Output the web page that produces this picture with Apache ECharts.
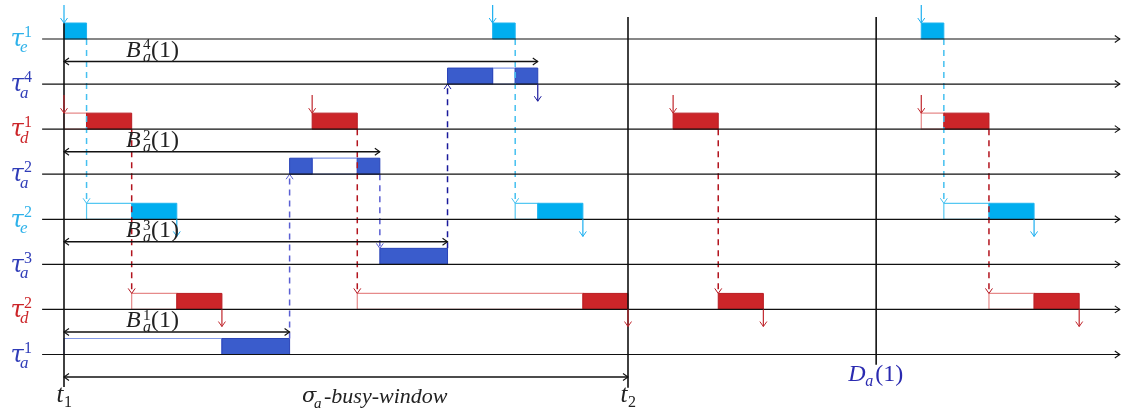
<!DOCTYPE html>
<html>
<head>
<meta charset="utf-8">
<script src="https://cdn.jsdelivr.net/npm/echarts@6/dist/echarts.min.js"></script>
<style>html,body{margin:0;background:#fff}#chart{width:1123px;height:414px}</style>
</head>
<body>
<div id="chart"></div>
<script>
// rows from top to bottom: task kind (e/a/d) and its index
var rowKind = ['e', 'a', 'd', 'a', 'e', 'a', 'd', 'a'];
var rowIndex = ['1', '4', '1', '2', '2', '3', '2', '1'];

// [row, start, end] in time units
var runSlots = [
    [0, 0, 1], [0, 19, 20], [0, 38, 39],
    [1, 17, 19], [1, 20, 21],
    [2, 1, 3], [2, 11, 13], [2, 27, 29], [2, 39, 41],
    [3, 10, 11], [3, 13, 14],
    [4, 3, 5], [4, 21, 23], [4, 41, 43],
    [5, 14, 17],
    [6, 5, 7], [6, 23, 25], [6, 29, 31], [6, 43, 45],
    [7, 7, 10]
];
var waitSlots = [
    [1, 19, 20],
    [2, 0, 1], [2, 38, 39],
    [3, 11, 13],
    [4, 1, 3], [4, 20, 21], [4, 39, 41],
    [6, 3, 5], [6, 13, 23], [6, 41, 43],
    [7, 0, 7]
];
// [row, time]
var releases = [[0, 0], [0, 19], [0, 38], [2, 0], [2, 11], [2, 27], [2, 38]];
var completions = [[1, 21], [4, 5], [4, 23], [4, 43], [6, 7], [6, 25], [6, 31], [6, 45]];
// [from row, to row, time]
var links = [[0, 4, 1], [0, 4, 20], [0, 4, 39], [2, 6, 3], [2, 6, 13], [2, 6, 29], [2, 6, 41],
    [7, 3, 10], [3, 5, 14], [5, 1, 17]];
// B_a^k(1) windows
var windowTask = ['4', '2', '3', '1'];
var windowRow = [1, 3, 5, 7];
var windowEnd = [21, 14, 17, 10];
var busyEnd = 25;
var markerTimes = [0, 25, 36];
var markerNames = ['1', '2', 'D'];
var timeStart = -0.97, timeEnd = 46.8;

var BOX_H = 0.355;
var FONT = '"Liberation Serif", "DejaVu Serif", serif';
var GREEK = '"DejaVu Serif", serif';
var fillColor = {e: '#00aeef', a: '#3a5ccc', d: '#cc2529'};
var edgeColor = {e: '#1fb4ef', a: '#2a44b8', d: '#b81c22'};
var waitColor = {e: '#55c8f2', a: '#8298e6', d: '#e68a8a'};
var labelColor = {e: '#2fb2ea', a: '#2f3cb8', d: '#cc2529'};
var arrowColor = {e: '#1caff0', a: '#1a1a9c', d: '#c0272d'};
var linkColor = {e: '#45c0f0', a: '#5a5fd2', d: '#b3141e'};
var markerSpan = [[-0.35, 7.72], [-0.49, 7.74], [-0.49, 7.23]];

function seg(a, b, color, w, dash) {
    return {type: 'line', shape: {x1: a[0], y1: a[1], x2: b[0], y2: b[1]},
        style: {stroke: color, lineWidth: w, lineDash: dash || null}};
}
function head(tip, from, color, w) {
    var dx = tip[0] - from[0], dy = tip[1] - from[1], L = Math.sqrt(dx * dx + dy * dy);
    dx /= L; dy /= L;
    var a = 5, b = 3.5;
    return {type: 'polyline', shape: {points: [
        [tip[0] - dx * a - dy * b, tip[1] - dy * a + dx * b], tip,
        [tip[0] - dx * a + dy * b, tip[1] - dy * a - dx * b]]},
        style: {stroke: color, fill: null, lineWidth: w}};
}
function txt(x, y, s, size, color, italic, align, family) {
    return {type: 'text', x: x, y: y, style: {text: s, fill: color, fontSize: size, fontFamily: family || FONT,
        fontStyle: italic ? 'italic' : 'normal', align: align || 'left', verticalAlign: 'middle'}};
}

function slotItem(wait) {
    return function (params, api) {
        var r = api.value(0), k = rowKind[r];
        var p0 = api.coord([api.value(1), r]), p1 = api.coord([api.value(2), r - BOX_H]);
        return {type: 'rect', shape: {x: p0[0], y: p1[1], width: p1[0] - p0[0], height: p0[1] - p1[1]},
            style: wait ? {fill: null, stroke: waitColor[k], lineWidth: 1.2}
                        : {fill: fillColor[k], stroke: edgeColor[k], lineWidth: 1}};
    };
}
function rowItem(params, api) {
    var r = api.value(0), k = rowKind[r], c = labelColor[k];
    var a = api.coord([timeStart, r]), b = api.coord([timeEnd, r]);
    return {type: 'group', children: [
        seg(a, b, '#111', 1.2), head(b, a, '#111', 1.1),
        txt(a[0] - 25, a[1] + 1, 'τ', 24, c, true, 'center', GREEK),
        txt(a[0] - 18, a[1] - 6, rowIndex[r], 16, c, false),
        txt(a[0] - 22, a[1] + 9, k, 17, c, true)
    ]};
}
function releaseItem(params, api) {
    var r = api.value(0), t = api.value(1);
    var a = api.coord([t, r - BOX_H - 0.4]), b = api.coord([t, r - BOX_H]);
    var c = arrowColor[rowKind[r]];
    return {type: 'group', children: [seg(a, b, c, 1.2), head(b, a, c, 1)]};
}
function completionItem(params, api) {
    var r = api.value(0), t = api.value(1);
    var a = api.coord([t, r]), b = api.coord([t, r + 0.38]);
    var c = arrowColor[rowKind[r]];
    return {type: 'group', children: [seg(a, b, c, 1.2), head(b, a, c, 1)]};
}
function linkItem(params, api) {
    var f = api.value(0), to = api.value(1), t = api.value(2);
    var a, b;
    if (to > f) { a = api.coord([t, f]); b = api.coord([t, to - BOX_H]); }
    else { a = api.coord([t, f - BOX_H]); b = api.coord([t, to]); }
    var c = to === 1 ? '#1a1a9c' : linkColor[rowKind[f]];
    return {type: 'group', children: [seg(a, b, c, 1.5, [6, 5]), head(b, a, c, 1)]};
}
function windowItem(params, api) {
    var i = api.value(0), v = windowRow[i] - 0.5;
    var a = api.coord([0, v]), b = api.coord([windowEnd[i], v]);
    return {type: 'group', children: [
        seg(a, b, '#111', 1.4), head(b, a, '#111', 1.1), head(a, b, '#111', 1.1),
        txt(a[0] + 62, a[1] - 11, 'B', 24, '#222', true),
        txt(a[0] + 79, a[1] - 16, windowTask[i], 15, '#222', false),
        txt(a[0] + 79, a[1] - 4, 'a', 16, '#222', true),
        txt(a[0] + 87, a[1] - 11, '(1)', 24, '#222', false)
    ]};
}
function busyItem(params, api) {
    var a = api.coord([0, 7.5]), b = api.coord([api.value(0), 7.5]);
    return {type: 'group', children: [
        seg(a, b, '#111', 1.4), head(b, a, '#111', 1.1), head(a, b, '#111', 1.1),
        txt(a[0] + 238, a[1] + 20, 'σ', 21, '#222', true, 'left', GREEK),
        txt(a[0] + 250, a[1] + 27, 'a', 15, '#222', true),
        txt(a[0] + 260, a[1] + 20, '-busy-window', 22, '#222', true)
    ]};
}
function markerItem(params, api) {
    var i = api.value(0), t = markerTimes[i], s = markerSpan[i];
    var a = api.coord([t, s[0]]), b = api.coord([t, s[1]]);
    var kids = [seg(a, b, '#111', 1.6)];
    var m = api.coord([t, 7.5]);
    if (markerNames[i] === 'D') {
        kids.push(txt(m[0] - 28, m[1] - 2, 'D', 24, '#2a2ab0', true),
            txt(m[0] - 11, m[1] + 5, 'a', 16, '#2a2ab0', true),
            txt(m[0] - 1, m[1] - 2, '(1)', 24, '#2a2ab0', false));
    } else {
        kids.push(txt(m[0] - 4, m[1] + 18, 't', 25, '#222', true, 'center'),
            txt(m[0], m[1] + 26, markerNames[i], 16, '#222', false));
    }
    return {type: 'group', children: kids};
}

function idx(arr) { return arr.map(function (d, i) { return [i]; }); }

var option = {
    animation: false,
    grid: {left: 0, right: 0, top: 0, bottom: 0},
    xAxis: {type: 'value', min: -64 / 22.56, max: (1123 - 64) / 22.56, show: false},
    yAxis: {type: 'value', inverse: true, min: -39 / 45.07, max: (414 - 39) / 45.07, show: false},
    series: [
        {type: 'custom', renderItem: slotItem(true), data: waitSlots, z: 2},
        {type: 'custom', renderItem: slotItem(false), data: runSlots, z: 3},
        {type: 'custom', renderItem: linkItem, data: links, z: 4},
        {type: 'custom', renderItem: rowItem, data: idx(rowKind), z: 5},
        {type: 'custom', renderItem: markerItem, data: idx(markerTimes), z: 5},
        {type: 'custom', renderItem: releaseItem, data: releases, z: 6},
        {type: 'custom', renderItem: completionItem, data: completions, z: 6},
        {type: 'custom', renderItem: windowItem, data: idx(windowEnd), z: 6},
        {type: 'custom', renderItem: busyItem, data: [[busyEnd]], z: 6}
    ]
};

var chart = echarts.init(document.getElementById('chart'));
chart.setOption(option);
window.onresize = function () { chart.resize(); };
</script>
</body>
</html>
